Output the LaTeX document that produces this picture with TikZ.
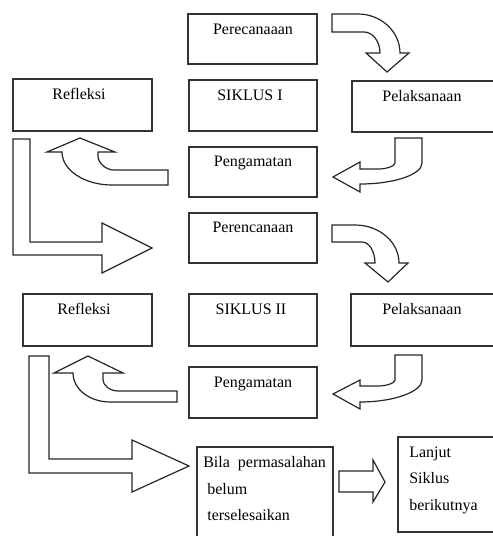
\documentclass[tikz,border=0pt]{standalone}
\usepackage{fontspec}
\setmainfont{Liberation Serif}
\usetikzlibrary{fit}
\begin{document}
\begin{tikzpicture}[x=0.625pt,y=-0.625pt,
  box/.style={draw=black!80,line width=0.8pt,inner sep=0pt},
  lbl/.style={anchor=base,inner sep=0pt,font=\fontsize{10pt}{12pt}\selectfont},
  lbll/.style={anchor=base west,inner sep=0pt,font=\fontsize{10pt}{12pt}\selectfont},
  blk/.style={draw=black!85,line width=0.75pt,fill=white,line join=miter}]
\useasboundingbox (0,0) rectangle (493,536);
\clip (0,0) rectangle (493,536);
% boxes
\node[box,fit={(188,14) (317,64)}] (p1) {};
\node[box,fit={(189,80) (317,131)}] (s1) {};
\node[box,fit={(13,79) (152,131)}] (r1) {};
\node[box,fit={(352,81) (494,132)}] (l1) {};
\node[box,fit={(189,147) (317,197)}] (g1) {};
\node[box,fit={(189,213) (317,263)}] (p2) {};
\node[box,fit={(351,294) (494,346)}] (l2) {};
\node[box,fit={(23,294) (152,346)}] (r2) {};
\node[box,fit={(189,294) (317,346)}] (s2) {};
\node[box,fit={(189,367) (317,418)}] (g2) {};
\node[box,fit={(197,447) (333,545)}] (bl) {};
\node[box,fit={(398,437) (494,532)}] (nx) {};
% labels
\node[lbl] (p1t) at (253,34) {Perecanaaan};
\node[lbl] (s1t) at (250,100) {SIKLUS I};
\node[lbl] (r1t) at (79,99) {Refleksi};
\node[lbl] (l1t) at (422,101) {Pelaksanaan};
\node[lbl] (g1t) at (253,166) {Pengamatan};
\node[lbl] (p2t) at (253,232) {Perencanaan};
\node[lbl] (l2t) at (422,314) {Pelaksanaan};
\node[lbl] (r2t) at (84,314) {Refleksi};
\node[lbl] (s2t) at (251,314) {SIKLUS II};
\node[lbl] (g2t) at (253,387) {Pengamatan};
\node[lbll] (b1) at (203,467) {Bila\hspace{2.5pt} permasalahan};
\node[lbll] (b2) at (207,494) {belum};
\node[lbll] (b3) at (207,520) {terselesaikan};
\node[lbll] (n1) at (409,457) {Lanjut};
\node[lbll] (n2) at (409,483) {Siklus};
\node[lbll] (n3) at (409,510) {berikutnya};
% block arrows
% 1: Perecanaaan -> Pelaksanaan I
\draw[blk] (332,14) -- (358,14) .. controls (381,14) and (400,31.5) .. (400,53)
  -- (409,53) -- (387,72) -- (366,53) -- (380,53)
  .. controls (380,41.4) and (372.8,32) .. (364,32) -- (332,32) -- cycle;
% 2: Pelaksanaan I -> Pengamatan I
\draw[blk] (395,138) -- (422,138) -- (422,163)
  .. controls (422,174.6) and (394.2,184) .. (360,184)
  -- (360,192) -- (333,177) -- (360,162) -- (360,169) -- (378,169)
  .. controls (387.4,169) and (395,165.7) .. (395,163) -- cycle;
% 3: Pengamatan I -> Refleksi I
\draw[blk] (168,170) -- (114,170) .. controls (105.2,170) and (98,162.3) .. (98,156)
  -- (98,152) -- (115,152) -- (80,138) -- (47,152) -- (62,152)
  .. controls (62,170.2) and (84.4,185) .. (112,185) -- (168,185) -- cycle;
% 4: Refleksi I -> Perencanaan II
\draw[blk] (13,139) -- (30,139) -- (30,242) -- (102,242) -- (102,223) -- (152,248)
  -- (102,273) -- (102,255) -- (13,255) -- cycle;
% 5: Perencanaan II -> Pelaksanaan II
\draw[blk] (332,225) -- (355,225) .. controls (379.3,225) and (399,242) .. (399,263)
  -- (408,263) -- (388,282) -- (365,263) -- (375,263)
  .. controls (375,251.4) and (369.2,242) .. (362,242) -- (332,242) -- cycle;
% 6: Pelaksanaan II -> Pengamatan II
\draw[blk] (395,355) -- (422,355) -- (422,380)
  .. controls (422,391.6) and (394.2,402) .. (360,402)
  -- (360,409) -- (333,394) -- (360,380) -- (360,386) -- (378,386)
  .. controls (387.4,386) and (395,382.7) .. (395,380) -- cycle;
% 7: Pengamatan II -> Refleksi II
\draw[blk] (177,391) -- (118,391) .. controls (109.7,391) and (103,384.9) .. (103,380)
  -- (103,373) -- (123,373) -- (88,356) -- (54,373) -- (73,373)
  .. controls (73,389) and (89.6,402) .. (110,402) -- (177,402) -- cycle;
% 8: Refleksi II -> Bila
\draw[blk] (29,356) -- (49,356) -- (49,459) -- (132,459) -- (132,440) -- (189,466)
  -- (132,492) -- (132,473) -- (29,473) -- cycle;
% 9: Bila -> Lanjut
\draw[blk] (339,471) -- (373,471) -- (373,460) -- (385,482) -- (373,502)
  -- (373,492) -- (339,492) -- cycle;
\end{tikzpicture}
\end{document}
